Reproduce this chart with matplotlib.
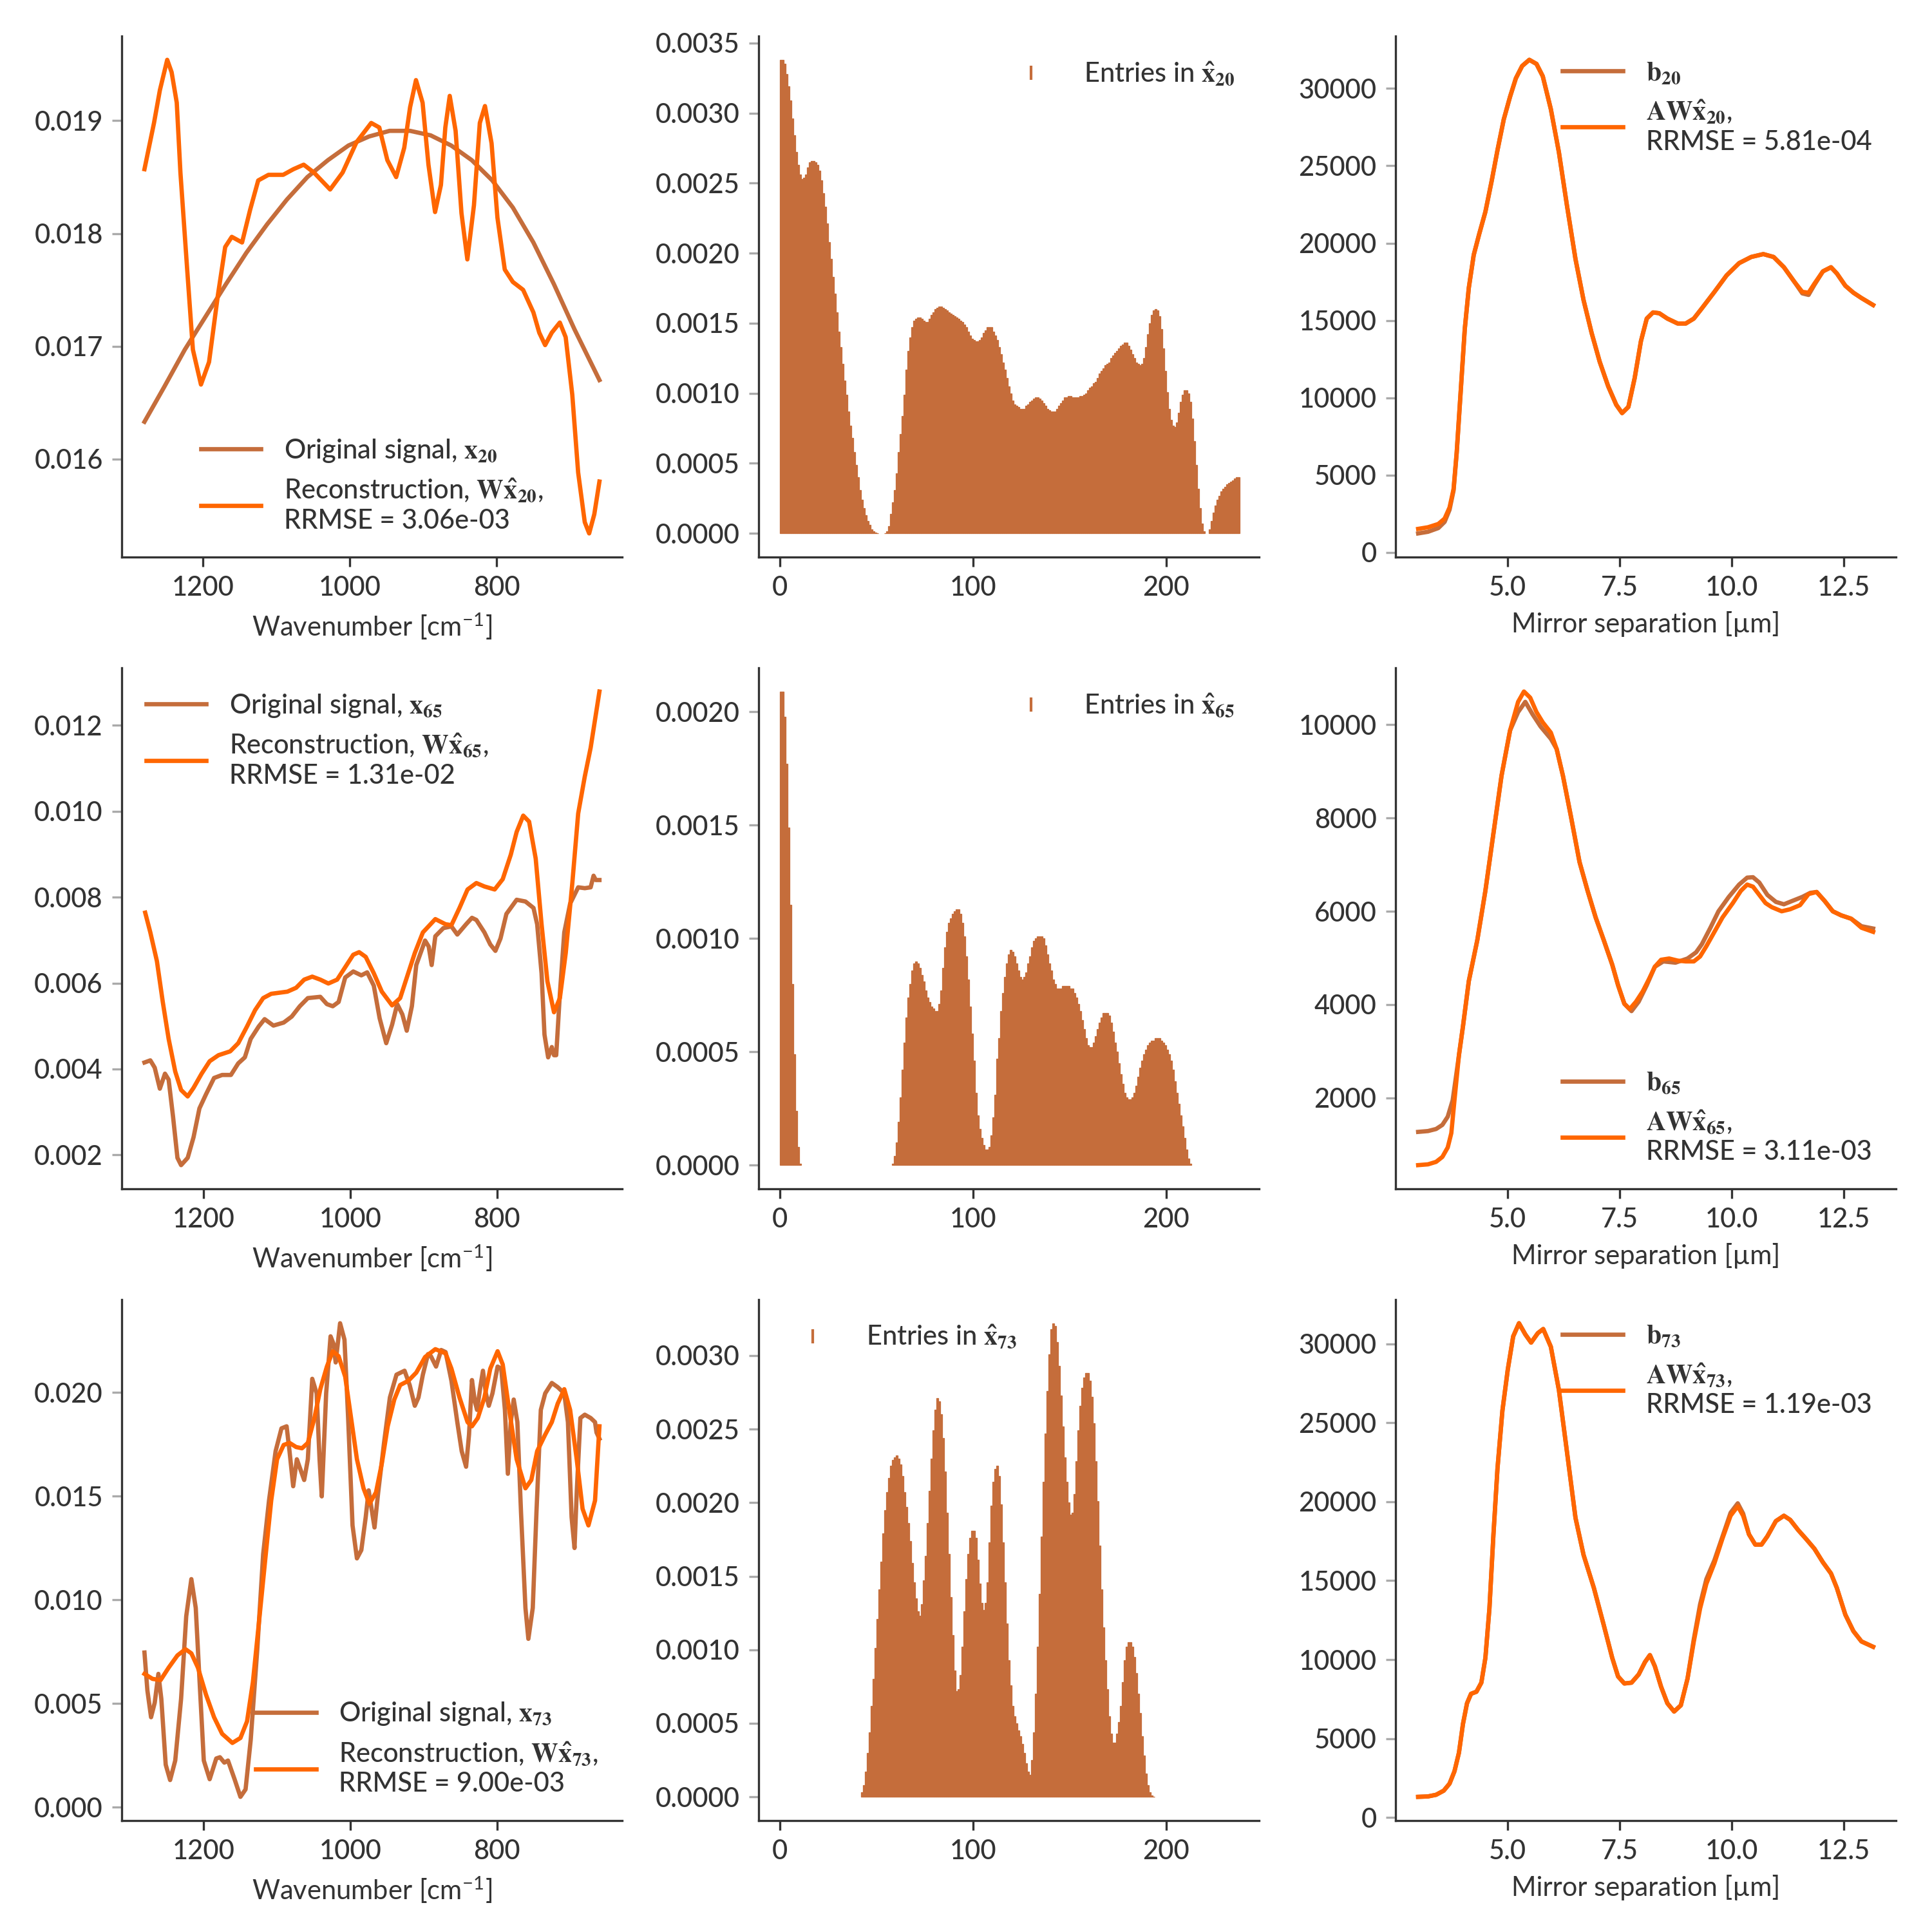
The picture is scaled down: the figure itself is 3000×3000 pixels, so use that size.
#!/usr/bin/env python
# -*- coding: utf-8 -*-
"""
Details: signals, sparse codes and measurements for three samples (20, 65, 73)
"""
import numpy as np
import matplotlib
matplotlib.use("Agg")
import matplotlib.pyplot as plt
from matplotlib.lines import Line2D
from matplotlib.ticker import MultipleLocator, FixedLocator, FormatStrFormatter

# ------------ colours / style -----------------
c_orig = "#c56d3b"
c_rec = "#ff6600"
c_text = "#333333"

plt.rcParams['font.family'] = ['Lato', 'DejaVu Sans']
plt.rcParams['font.size'] = 10
plt.rcParams['font.weight'] = 'medium'
plt.rcParams['mathtext.fontset'] = 'stix'
plt.rcParams['text.color'] = c_text
plt.rcParams['axes.labelcolor'] = c_text
plt.rcParams['xtick.labelcolor'] = c_text
plt.rcParams['ytick.labelcolor'] = c_text

samples = [20, 65, 73]
rrmse_x = ["3.06e-03", "1.31e-02", "9.00e-03"]
rrmse_b = ["5.81e-04", "3.11e-03", "1.19e-03"]

# ------------ column 1 : spectra (wavenumber, value) -----------------
wn_20_orig = [1280, 1253, 1225, 1197, 1169, 1141, 1113, 1086, 1058, 1030, 1002, 974,
              946, 918, 890, 862, 834, 806, 778, 750, 722, 694, 660]
x20_orig = [0.01633, 0.01664, 0.01697, 0.01726, 0.01755, 0.01783, 0.01808, 0.0183,
            0.0185, 0.01865, 0.01878, 0.01886, 0.01891, 0.01891, 0.01887, 0.01878,
            0.01865, 0.01847, 0.01823, 0.01792, 0.01755, 0.01715, 0.0167]
wn_20_rec = [1280, 1267, 1259, 1249, 1243, 1236, 1231, 1222, 1214, 1203, 1192, 1180,
             1170, 1161, 1147, 1136, 1125, 1111, 1091, 1077, 1063, 1049, 1027, 1010,
             991, 971, 960, 949, 937, 926, 918, 910, 901, 893, 884, 876, 870, 864, 856,
             848, 840, 831, 823, 816, 807, 799, 789, 778, 764, 750, 742, 734, 725, 714,
             706, 697, 689, 680, 674, 667, 660]
x20_rec = [0.01857, 0.01898, 0.01927, 0.01954, 0.01943, 0.01916, 0.01854, 0.0177,
           0.01697, 0.01666, 0.01686, 0.01745, 0.01788, 0.01797, 0.01792, 0.01821,
           0.01847, 0.01852, 0.01852, 0.01857, 0.01861, 0.01854, 0.01839, 0.01854,
           0.01881, 0.01898, 0.01894, 0.01865, 0.0185, 0.01876, 0.01912, 0.01936,
           0.01916, 0.01861, 0.01819, 0.01843, 0.01894, 0.01922, 0.01891, 0.01818,
           0.01777, 0.01825, 0.01898, 0.01913, 0.0188, 0.01814, 0.01768, 0.01757,
           0.0175, 0.0173, 0.01712, 0.01701, 0.01712, 0.01721, 0.01708, 0.01657,
           0.01588, 0.01544, 0.01534, 0.01551, 0.0158]

wn_65_orig = [1281, 1273, 1267, 1260, 1253, 1248, 1242, 1236, 1231, 1222, 1214, 1206,
              1197, 1186, 1175, 1163, 1153, 1144, 1136, 1125, 1117, 1105, 1091, 1080,
              1069, 1058, 1041, 1032, 1024, 1016, 1007, 996, 985, 977, 968, 960, 951,
              943, 936, 929, 923, 916, 910, 898, 893, 889, 884, 873, 862, 854, 842,
              834, 828, 817, 809, 802, 795, 787, 773, 761, 750, 745, 739, 735, 730,
              725, 722, 719, 714, 708, 700, 689, 680, 672, 668, 665, 660]
x65_orig = [0.00415, 0.0042, 0.00403, 0.00354, 0.00389, 0.00375, 0.00289, 0.00193,
            0.00176, 0.00193, 0.00241, 0.00308, 0.00341, 0.00379, 0.00386, 0.00386,
            0.00413, 0.00427, 0.0047, 0.00499, 0.00516, 0.00501, 0.00508, 0.00522,
            0.00546, 0.00565, 0.00568, 0.00551, 0.00546, 0.00556, 0.00613, 0.00627,
            0.00618, 0.00625, 0.00594, 0.00518, 0.0046, 0.00503, 0.00551, 0.00527,
            0.00489, 0.00546, 0.00642, 0.00699, 0.00685, 0.00642, 0.00709, 0.00728,
            0.00732, 0.00713, 0.00737, 0.00752, 0.00747, 0.00718, 0.0069, 0.00675,
            0.00704, 0.00761, 0.00794, 0.0079, 0.00775, 0.00737, 0.00623, 0.0048,
            0.00427, 0.00451, 0.00432, 0.00432, 0.00575, 0.00718, 0.00785, 0.00823,
            0.00821, 0.00823, 0.0085, 0.0084, 0.0084]
wn_65_rec = [1280, 1273, 1264, 1256, 1248, 1239, 1231, 1222, 1214, 1203, 1192, 1180,
             1164, 1153, 1141, 1130, 1119, 1108, 1086, 1074, 1063, 1052, 1041, 1030,
             1018, 1007, 996, 988, 979, 968, 957, 943, 932, 921, 912, 901, 884, 870,
             862, 851, 840, 828, 817, 803, 792, 781, 773, 764, 756, 747, 739, 731,
             722, 714, 706, 697, 689, 680, 672, 660]
x65_rec = [0.00764, 0.00718, 0.00651, 0.00556, 0.0047, 0.00394, 0.00351, 0.00336,
           0.00356, 0.00389, 0.00418, 0.00432, 0.00441, 0.0046, 0.00499, 0.00537,
           0.00565, 0.00575, 0.0058, 0.00589, 0.00608, 0.00615, 0.00608, 0.00599,
           0.00608, 0.00637, 0.00666, 0.00672, 0.00661, 0.00623, 0.0058, 0.00548,
           0.00565, 0.00623, 0.0067, 0.00718, 0.00749, 0.00737, 0.00735, 0.00775,
           0.00818, 0.00833, 0.00825, 0.00818, 0.00842, 0.00899, 0.00952, 0.0099,
           0.00976, 0.0089, 0.00737, 0.00604, 0.00532, 0.00565, 0.0067, 0.00833,
           0.00995, 0.01081, 0.01148, 0.01279]

wn_73_orig = [1281, 1277, 1272, 1267, 1262, 1258, 1252, 1246, 1239, 1231, 1224, 1217,
              1211, 1206, 1200, 1192, 1183, 1178, 1172, 1167, 1158, 1150, 1143, 1136,
              1127, 1119, 1111, 1102, 1094, 1087, 1083, 1078, 1073, 1069, 1063, 1058,
              1052, 1046, 1042, 1039, 1033, 1027, 1023, 1020, 1014, 1008, 1003, 997,
              991, 985, 979, 975, 971, 967, 962, 954, 946, 937, 926, 919, 912, 907,
              901, 894, 890, 883, 876, 870, 862, 854, 848, 842, 838, 834, 830, 827,
              823, 819, 815, 811, 806, 799, 794, 789, 785, 781, 777, 772, 767, 761,
              757, 751, 746, 740, 734, 725, 717, 708, 703, 698, 694, 691, 686, 680,
              672, 666, 664, 660]
x73_orig = [0.00746, 0.00563, 0.00434, 0.00504, 0.00643, 0.00523, 0.00205, 0.00131,
            0.00225, 0.00523, 0.00921, 0.011, 0.00961, 0.00623, 0.00225, 0.00135,
            0.00235, 0.00241, 0.00215, 0.00225, 0.00135, 0.0005, 0.00086, 0.00324,
            0.00762, 0.0122, 0.01479, 0.01717, 0.01827, 0.01837, 0.01717, 0.01548,
            0.01678, 0.01638, 0.01578, 0.01678, 0.02066, 0.01996, 0.01678, 0.01499,
            0.01996, 0.02271, 0.02235, 0.02145, 0.02334, 0.02255, 0.01877, 0.01359,
            0.012, 0.0124, 0.01399, 0.01528, 0.01439, 0.01349, 0.01518, 0.01757,
            0.01976, 0.02086, 0.02105, 0.02036, 0.01936, 0.01976, 0.02086, 0.02185,
            0.02175, 0.02125, 0.02205, 0.02195, 0.02056, 0.01857, 0.01717, 0.01642,
            0.01797, 0.0206, 0.01956, 0.01916, 0.02016, 0.02105, 0.01996, 0.01936,
            0.01996, 0.02125, 0.02115, 0.01916, 0.01608, 0.01857, 0.01966, 0.01857,
            0.01419, 0.00961, 0.00812, 0.00961, 0.01419, 0.01916, 0.01996, 0.02046,
            0.02026, 0.01996, 0.01857, 0.01399, 0.0125, 0.01518, 0.01877, 0.01893,
            0.01877, 0.01857, 0.01807, 0.01777]
wn_73_rec = [1281, 1270, 1259, 1248, 1236, 1225, 1217, 1208, 1197, 1186, 1175, 1161,
             1150, 1141, 1133, 1125, 1116, 1108, 1100, 1091, 1083, 1074, 1066, 1058,
             1049, 1041, 1032, 1024, 1016, 1007, 999, 991, 982, 974, 965, 957, 949,
             940, 932, 921, 910, 898, 884, 870, 862, 851, 840, 834, 826, 817, 809,
             799, 792, 784, 773, 761, 753, 745, 734, 725, 717, 708, 700, 691, 683,
             675, 666, 660]
x73_rec = [0.00643, 0.00619, 0.00613, 0.00673, 0.00732, 0.00762, 0.00742, 0.00673,
           0.00543, 0.00434, 0.00354, 0.0031, 0.00334, 0.00414, 0.00603, 0.00882,
           0.012, 0.01479, 0.01678, 0.01747, 0.01757, 0.01737, 0.01731, 0.01757,
           0.01877, 0.02016, 0.02125, 0.02199, 0.02175, 0.02076, 0.01877, 0.01678,
           0.01538, 0.01463, 0.01518, 0.01658, 0.01837, 0.01966, 0.02036, 0.02056,
           0.02096, 0.02171, 0.02209, 0.02189, 0.02115, 0.01976, 0.01857, 0.01837,
           0.01877, 0.01976, 0.02115, 0.02199, 0.02135, 0.01936, 0.01678, 0.01538,
           0.01578, 0.01717, 0.01797, 0.01857, 0.01946, 0.02016, 0.01916, 0.01678,
           0.01439, 0.01359, 0.01479, 0.01837]

# ------------ column 2 : entries of x_hat (units of 1e-4) -----------------
entries_20 = [
    33.8, 33.8, 33.5, 32.8, 31.9, 30.9, 29.6, 28.4, 27.2, 26.3,
    25.6, 25.3, 25.4, 25.6, 26.1, 26.5, 26.6, 26.6, 26.5, 26.3,
    25.9, 25.2, 24.3, 23.3, 22.1, 20.8, 19.6, 18.3, 17.1, 15.8,
    14.4, 13.3, 12.1, 10.9, 9.9, 8.7, 7.7, 6.8, 5.8, 4.9,
    4.0, 3.1, 2.4, 1.8, 1.3, 0.9, 0.6, 0.3, 0.15, 0.06,
    0.01, 0.0, 0.0, 0.0, 0.03, 0.15, 0.5, 1.4, 2.2, 3.1,
    4.3, 5.8, 7.1, 8.4, 9.9, 11.7, 13.0, 14.0, 14.7, 15.2,
    15.3, 15.4, 15.4, 15.3, 15.2, 15.1, 15.1, 15.3, 15.6, 15.8,
    16.0, 16.1, 16.2, 16.2, 16.1, 16.0, 15.9, 15.8, 15.7, 15.6,
    15.5, 15.4, 15.3, 15.2, 15.1, 14.9, 14.7, 14.4, 14.1, 13.9,
    13.8, 13.7, 13.7, 13.8, 14.0, 14.3, 14.5, 14.7, 14.7, 14.7,
    14.4, 14.1, 13.8, 13.3, 12.8, 12.2, 11.7, 11.1, 10.5, 10.0,
    9.5, 9.2, 9.1, 9.0, 8.9, 8.9, 8.9, 9.1, 9.2, 9.4,
    9.5, 9.6, 9.7, 9.7, 9.6, 9.5, 9.3, 9.1, 8.9, 8.8,
    8.7, 8.7, 8.7, 8.9, 9.1, 9.3, 9.5, 9.7, 9.7, 9.8,
    9.8, 9.7, 9.7, 9.7, 9.7, 9.8, 9.8, 9.9, 10.0, 10.2,
    10.4, 10.5, 10.7, 10.8, 11.1, 11.4, 11.6, 11.8, 12.0, 12.1,
    12.2, 12.5, 12.7, 12.9, 13.0, 13.2, 13.4, 13.5, 13.6, 13.6,
    13.4, 13.1, 12.8, 12.5, 12.2, 12.1, 12.0, 12.1, 12.5, 13.3,
    14.2, 15.0, 15.6, 15.9, 16.0, 15.9, 15.5, 14.6, 13.2, 11.6,
    10.1, 8.9, 8.1, 7.7, 7.6, 7.9, 8.6, 9.4, 9.9, 10.2,
    10.2, 10.0, 9.4, 8.2, 6.6, 4.9, 3.2, 1.8, 0.7, 0.15,
    0.0, 0.0, 0.3, 0.9, 1.5, 2.0, 2.4, 2.7, 3.0, 3.2,
    3.3, 3.5, 3.6, 3.7, 3.8, 3.9, 4.0, 4.0]

entries_65 = [
    20.9, 20.9, 19.8, 17.7, 14.9, 11.5, 8.0, 4.9, 2.4, 0.8,
    0.05, 0, 0, 0, 0, 0, 0, 0, 0, 0,
    0, 0, 0, 0, 0, 0, 0, 0, 0, 0,
    0, 0, 0, 0, 0, 0, 0, 0, 0, 0,
    0, 0, 0, 0, 0, 0, 0, 0, 0, 0,
    0, 0, 0, 0, 0, 0, 0, 0, 0.05, 0.4,
    1.0, 1.9, 3.0, 4.2, 5.4, 6.5, 7.4, 8.0, 8.6, 8.9,
    9.0, 8.9, 8.7, 8.4, 8.1, 7.7, 7.4, 7.2, 7.0, 6.9,
    6.8, 6.8, 7.1, 7.7, 8.7, 9.6, 10.3, 10.7, 10.9, 11.1,
    11.2, 11.3, 11.3, 11.1, 10.7, 10.1, 9.2, 8.2, 7.0, 5.8,
    4.6, 3.2, 2.2, 1.6, 1.2, 0.9, 0.7, 0.7, 0.8, 1.3,
    2.1, 3.1, 4.7, 5.6, 6.8, 7.6, 8.3, 8.9, 9.3, 9.5,
    9.4, 9.2, 8.9, 8.6, 8.3, 8.2, 8.3, 8.5, 8.9, 9.2,
    9.6, 9.9, 10.0, 10.1, 10.1, 10.1, 10.0, 9.7, 9.3, 8.9,
    8.6, 8.2, 8.0, 7.8, 7.8, 7.8, 7.9, 7.9, 7.9, 7.9,
    7.8, 7.8, 7.6, 7.4, 7.1, 6.8, 6.4, 6.0, 5.6, 5.3,
    5.2, 5.2, 5.4, 5.7, 6.0, 6.3, 6.5, 6.7, 6.7, 6.7,
    6.6, 6.3, 5.9, 5.4, 5.0, 4.5, 4.0, 3.6, 3.2, 3.0,
    2.9, 2.9, 3.0, 3.2, 3.5, 3.9, 4.3, 4.6, 4.9, 5.1,
    5.3, 5.4, 5.5, 5.5, 5.6, 5.6, 5.6, 5.5, 5.4, 5.3,
    5.1, 4.9, 4.6, 4.2, 3.7, 3.2, 2.7, 2.2, 1.7, 1.2,
    0.7, 0.3, 0.05, 0, 0, 0, 0, 0, 0, 0,
    0, 0, 0, 0, 0, 0, 0, 0, 0, 0,
    0, 0, 0, 0, 0, 0, 0, 0]

entries_73 = [
    0, 0, 0, 0, 0, 0, 0, 0, 0, 0,
    0, 0, 0, 0, 0, 0, 0, 0, 0, 0,
    0, 0, 0, 0, 0, 0, 0, 0, 0, 0,
    0, 0, 0, 0, 0, 0, 0, 0, 0, 0,
    0, 0, 0.3, 0.8, 1.7, 3.0, 4.4, 6.2, 8.0, 10.1,
    12.1, 14.1, 16.0, 17.9, 19.5, 20.7, 21.7, 22.5, 22.9, 23.1,
    23.2, 23.0, 22.6, 21.8, 20.7, 19.7, 18.6, 17.4, 15.9, 14.6,
    13.5, 12.6, 12.3, 13.1, 14.7, 16.4, 18.6, 20.8, 23.0, 24.9,
    26.3, 27.1, 26.9, 26.0, 24.4, 22.1, 19.3, 16.5, 13.6, 11.0,
    8.6, 7.2, 7.3, 8.3, 10.2, 12.6, 14.8, 16.5, 17.6, 18.1,
    18.1, 17.6, 16.1, 14.5, 13.2, 12.7, 13.2, 14.6, 17.3, 19.8,
    21.4, 22.3, 22.5, 21.8, 19.9, 17.3, 14.6, 11.8, 9.3, 7.6,
    6.2, 5.5, 5.0, 4.5, 4.1, 3.6, 3.0, 2.3, 1.7, 1.5,
    2.5, 4.4, 7.0, 10.2, 13.8, 17.7, 21.4, 24.7, 27.6, 30.1,
    31.8, 32.2, 32.0, 30.9, 29.3, 27.3, 25.2, 23.1, 21.4, 20.0,
    19.2, 19.3, 20.6, 22.8, 24.9, 26.6, 27.8, 28.5, 28.8, 28.8,
    28.3, 27.2, 25.4, 22.8, 20.1, 17.1, 14.1, 11.5, 9.3, 7.3,
    5.5, 4.3, 3.7, 3.7, 4.3, 5.1, 6.2, 7.8, 9.3, 10.2,
    10.5, 10.5, 10.2, 9.5, 8.4, 7.0, 5.7, 4.1, 2.8, 1.6,
    0.8, 0.3, 0.1, 0.02, 0, 0, 0, 0, 0, 0,
    0, 0, 0, 0, 0, 0, 0, 0, 0, 0,
    0, 0, 0, 0, 0, 0, 0, 0, 0, 0,
    0, 0, 0, 0, 0, 0, 0, 0, 0, 0,
    0, 0, 0, 0, 0, 0, 0, 0]

# ------------ column 3 : measurements (mirror separation [um], value) -----------------
sep_20 = [3.00, 3.22, 3.45, 3.59, 3.70, 3.79, 3.86, 3.95, 4.04, 4.13, 4.24, 4.36, 4.50,
          4.64, 4.77, 4.91, 5.05, 5.18, 5.32, 5.48, 5.64, 5.78, 5.96, 6.14, 6.32, 6.51,
          6.69, 6.87, 7.05, 7.24, 7.42, 7.55, 7.69, 7.83, 7.97, 8.10, 8.24, 8.38, 8.56,
          8.79, 8.97, 9.15, 9.33, 9.61, 9.88, 10.16, 10.43, 10.70, 10.93, 11.16, 11.39,
          11.57, 11.71, 11.84, 12.03, 12.21, 12.34, 12.53, 12.71, 12.89, 13.15]
b20 = [1222, 1328, 1568, 1966, 2750, 4000, 6420, 10420, 14430, 17100, 19237, 20566,
       22027, 24020, 26012, 28005, 29467, 30662, 31459, 31858, 31592, 30795, 28669,
       25879, 22425, 18970, 16314, 14188, 12328, 10734, 9539, 9007, 9406, 11266, 13657,
       15118, 15517, 15464, 15118, 14800, 14800, 15118, 15783, 16846, 17908, 18705,
       19104, 19290, 19104, 18440, 17510, 16750, 16650, 17300, 18174, 18440, 18041,
       17244, 16793, 16447, 15995]
awx20 = [1515, 1620, 1833, 2180, 2896, 4092, 6483, 10470, 14454, 17111, 19237, 20566,
         22027, 24020, 26012, 28005, 29467, 30662, 31459, 31858, 31592, 30795, 28669,
         25879, 22425, 18970, 16314, 14188, 12328, 10734, 9539, 9007, 9406, 11266, 13657,
         15118, 15517, 15464, 15118, 14800, 14800, 15118, 15783, 16846, 17908, 18705,
         19104, 19290, 19104, 18440, 17510, 16846, 16793, 17377, 18174, 18440, 18041,
         17244, 16793, 16447, 15995]

sep_65_b = [3.00, 3.22, 3.40, 3.54, 3.66, 3.77, 3.86, 4.00, 4.13, 4.32, 4.50, 4.68, 4.86,
            5.05, 5.23, 5.39, 5.55, 5.73, 5.96, 6.09, 6.23, 6.41, 6.60, 6.78, 6.96, 7.14,
            7.33, 7.46, 7.60, 7.76, 7.92, 8.10, 8.28, 8.47, 8.74, 9.01, 9.20, 9.33, 9.52,
            9.70, 9.93, 10.16, 10.34, 10.47, 10.61, 10.79, 10.98, 11.16, 11.34, 11.57,
            11.75, 11.89, 12.07, 12.25, 12.44, 12.66, 12.89, 13.15]
b65 = [1268, 1286, 1330, 1418, 1594, 1947, 2563, 3533, 4502, 5383, 6440, 7674, 8907,
       9877, 10273, 10493, 10229, 9965, 9700, 9480, 8907, 8026, 7057, 6440, 5868, 5383,
       4854, 4414, 4017, 3859, 4061, 4414, 4810, 4925, 4898, 4987, 5119, 5295, 5647,
       6000, 6308, 6573, 6722, 6731, 6617, 6352, 6202, 6150, 6220, 6308, 6396, 6414,
       6220, 6000, 5912, 5841, 5680, 5630]
sep_65_r = [3.00, 3.22, 3.40, 3.54, 3.66, 3.74, 3.81, 3.91, 4.00, 4.13, 4.32, 4.50, 4.68,
            4.86, 5.05, 5.23, 5.36, 5.50, 5.64, 5.78, 5.96, 6.09, 6.23, 6.41, 6.60, 6.78,
            6.96, 7.14, 7.33, 7.46, 7.60, 7.72, 7.86, 8.01, 8.15, 8.28, 8.42, 8.60, 8.79,
            8.97, 9.15, 9.29, 9.43, 9.61, 9.79, 10.02, 10.20, 10.34, 10.47, 10.61, 10.75,
            10.89, 11.11, 11.30, 11.52, 11.71, 11.89, 12.07, 12.25, 12.44, 12.66, 12.89,
            13.15]
awx65 = [555, 572, 625, 731, 934, 1242, 1947, 2916, 3533, 4502, 5383, 6440, 7674, 8907,
         9877, 10493, 10714, 10582, 10273, 10053, 9833, 9480, 8907, 8026, 7057, 6440,
         5868, 5383, 4854, 4414, 4017, 3903, 4061, 4282, 4546, 4810, 4960, 4987, 4942,
         4925, 4925, 5031, 5251, 5559, 5868, 6176, 6440, 6573, 6528, 6352, 6176, 6088,
         6000, 6044, 6132, 6370, 6414, 6220, 6000, 5912, 5841, 5647, 5559]

sep_73 = [3.00, 3.22, 3.40, 3.57, 3.70, 3.81, 3.91, 4.00, 4.09, 4.18, 4.30, 4.41, 4.50,
          4.59, 4.68, 4.77, 4.88, 5.00, 5.12, 5.25, 5.39, 5.52, 5.67, 5.79, 5.96, 6.14,
          6.32, 6.51, 6.69, 6.92, 7.14, 7.33, 7.46, 7.60, 7.76, 7.92, 8.06, 8.17, 8.28,
          8.42, 8.56, 8.71, 8.86, 9.01, 9.15, 9.29, 9.43, 9.61, 9.79, 9.97, 10.13, 10.25,
          10.38, 10.52, 10.66, 10.79, 10.98, 11.16, 11.30, 11.48, 11.66, 11.84, 12.03,
          12.21, 12.34, 12.53, 12.71, 12.89, 13.15]
b73 = [1306, 1332, 1436, 1697, 2141, 2924, 4099, 5927, 7232, 7833, 7964, 8538, 10105,
       13238, 17938, 22115, 25771, 28381, 30470, 31306, 30601, 30079, 30679, 30940, 29818,
       27076, 23159, 18982, 16632, 14543, 12193, 10105, 8930, 8486, 8538, 9060, 9843,
       10287, 9582, 8277, 7232, 6710, 7102, 8799, 11300, 13500, 15100, 16300, 17800,
       19300, 19900, 19250, 17938, 17285, 17285, 17807, 18773, 19113, 18851, 18199, 17625,
       17024, 16162, 15457, 14543, 12846, 11802, 11149, 10810]
awx73 = [1306, 1332, 1436, 1697, 2141, 2924, 4099, 5927, 7232, 7833, 7964, 8538, 10105,
         13238, 17938, 22115, 25771, 28381, 30470, 31306, 30601, 30079, 30679, 30940,
         29818, 27076, 23159, 18982, 16632, 14543, 12193, 10105, 8930, 8486, 8538, 9060,
         9843, 10287, 9582, 8277, 7232, 6710, 7102, 8799, 11149, 13238, 14804, 16110,
         17677, 19113, 19713, 19113, 17938, 17285, 17285, 17807, 18773, 19113, 18851,
         18199, 17625, 17024, 16162, 15457, 14543, 12846, 11802, 11149, 10810]

spectra = [(wn_20_orig, x20_orig, wn_20_rec, x20_rec),
           (wn_65_orig, x65_orig, wn_65_rec, x65_rec),
           (wn_73_orig, x73_orig, wn_73_rec, x73_rec)]
entries = [entries_20, entries_65, entries_73]
meas = [(sep_20, b20, sep_20, awx20),
        (sep_65_b, b65, sep_65_r, awx65),
        (sep_73, b73, sep_73, awx73)]

# ----------- per-panel settings ------------
leg_loc_1 = ['lower center', 'upper left', 'lower right']
leg_loc_2 = ['upper right', 'upper right', 'upper left']
leg_loc_3 = ['upper right', 'lower right', 'upper right']
ystep_1 = [0.001, 0.002, 0.005]
ystep_3 = [5000, 2000, 5000]
lw = 1.6
leg_kw = dict(frameon=False, handlelength=2.25, handletextpad=0.85)


def style_axes(ax):
    ax.spines['top'].set_visible(False)
    ax.spines['right'].set_visible(False)
    for s in ['left', 'bottom']:
        ax.spines[s].set_color(c_text)
        ax.spines[s].set_linewidth(0.8)
    ax.tick_params(axis='y', color='#aaaaaa', width=0.8, length=3.5)
    ax.tick_params(axis='x', color=c_text, width=0.8, length=3.5)


# -----------------  Plot Start  -----------------
fig, axes = plt.subplots(3, 3, figsize=(10, 10), dpi=300)
fig.subplots_adjust(left=0.063, right=0.9813, bottom=0.0577, top=0.9813,
                    wspace=0.2725, hspace=0.2126)

for r, n in enumerate(samples):
    # --- spectra ---
    ax = axes[r, 0]
    wo, xo, wr, xr = spectra[r]
    ax.plot(wo, xo, color=c_orig, lw=lw, label=r'Original signal, $\mathbf{x_{%d}}$' % n)
    ax.plot(wr, xr, color=c_rec, lw=lw,
            label='Reconstruction, $\\mathbf{W\\hat{x}_{%d}}$,\nRRMSE = %s' % (n, rrmse_x[r]))
    ax.invert_xaxis()
    ax.xaxis.set_major_locator(MultipleLocator(200))
    ax.xaxis.set_major_formatter(FormatStrFormatter('%d'))
    ax.yaxis.set_major_locator(MultipleLocator(ystep_1[r]))
    ax.yaxis.set_major_formatter(FormatStrFormatter('%.3f'))
    ax.set_xlabel(r'Wavenumber [cm$^{\mathregular{-1}}$]')
    ax.legend(loc=leg_loc_1[r], **leg_kw)
    style_axes(ax)

    # --- entries of x_hat ---
    ax = axes[r, 1]
    vals = np.array(entries[r]) * 1e-4
    edge = [c_orig if v > 0 else 'none' for v in vals]
    ax.bar(np.arange(len(vals)), vals, width=1.0, align='edge', color=c_orig,
           edgecolor=edge, linewidth=0.3)
    ax.use_sticky_edges = False
    ax.set_xlim(-11, 248)
    ax.xaxis.set_major_locator(MultipleLocator(100))
    ax.yaxis.set_major_locator(MultipleLocator(0.0005))
    ax.yaxis.set_major_formatter(FormatStrFormatter('%.4f'))
    h = Line2D([], [], marker='|', linestyle='None', color=c_orig, markersize=5.5,
               markeredgewidth=1.0)
    ax.legend([h], [r'Entries in $\mathbf{\hat{x}_{%d}}$' % n], loc=leg_loc_2[r], **leg_kw)
    style_axes(ax)

    # --- measurements ---
    ax = axes[r, 2]
    sb, bv, sr, rv = meas[r]
    ax.plot(sb, bv, color=c_orig, lw=lw, label=r'$\mathbf{b_{%d}}$' % n)
    ax.plot(sr, rv, color=c_rec, lw=lw,
            label='$\\mathbf{AW\\hat{x}_{%d}}$,\nRRMSE = %s' % (n, rrmse_b[r]))
    ax.xaxis.set_major_locator(FixedLocator([5.0, 7.5, 10.0, 12.5]))
    ax.xaxis.set_major_formatter(FormatStrFormatter('%.1f'))
    ax.yaxis.set_major_locator(MultipleLocator(ystep_3[r]))
    ax.yaxis.set_major_formatter(FormatStrFormatter('%d'))
    ax.set_xlabel('Mirror separation [µm]')
    ax.legend(loc=leg_loc_3[r], **leg_kw)
    style_axes(ax)

# save figure
plt.savefig("out.png", dpi=300)
